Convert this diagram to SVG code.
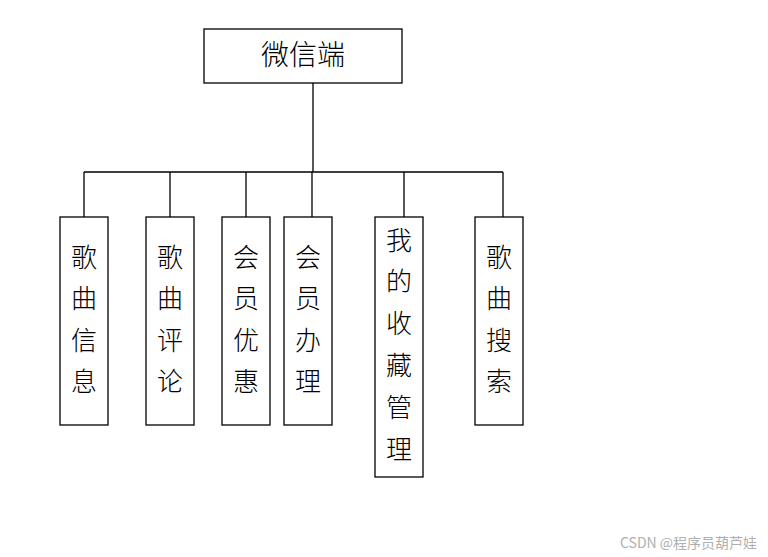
<svg xmlns="http://www.w3.org/2000/svg" width="768" height="557" viewBox="0 0 768 557">
<style>
.box{fill:#fff;stroke:#000;stroke-width:1.3}
.lbl{font-family:"Noto Sans CJK SC","Noto Sans",sans-serif;font-size:26px;font-weight:300;fill:#000;text-anchor:middle}
.ttl{font-size:28px}
.conn{stroke:#000;stroke-width:1.3;fill:none}
.wm{font-family:"Noto Sans CJK SC","Liberation Sans",sans-serif;font-size:14px;fill:#b0b0b0}
</style>
<rect width="768" height="557" fill="#fff"/>
<g id="connectors">
<path class="conn" d="M313 83V172M84 172H503M84 172V217M170 172V217M246 172V217M312 172V217M404 172V217M503 172V217"/>
</g>
<g id="root"><rect class="box" x="204" y="29" width="198" height="54"/><text class="lbl ttl" x="303" y="65">微信端</text></g>
<g id="n1"><rect class="box" x="60" y="217" width="48" height="208"/>
<text class="lbl" x="84" y="267">歌</text><text class="lbl" x="84" y="308">曲</text><text class="lbl" x="84" y="350">信</text><text class="lbl" x="84" y="391">息</text></g>
<g id="n2"><rect class="box" x="146" y="217" width="48" height="208"/>
<text class="lbl" x="170" y="267">歌</text><text class="lbl" x="170" y="308">曲</text><text class="lbl" x="170" y="350">评</text><text class="lbl" x="170" y="391">论</text></g>
<g id="n3"><rect class="box" x="222" y="217" width="48" height="208"/>
<text class="lbl" x="246" y="267">会</text><text class="lbl" x="246" y="308">员</text><text class="lbl" x="246" y="350">优</text><text class="lbl" x="246" y="391">惠</text></g>
<g id="n4"><rect class="box" x="284" y="217" width="48" height="208"/>
<text class="lbl" x="308" y="267">会</text><text class="lbl" x="308" y="308">员</text><text class="lbl" x="308" y="350">办</text><text class="lbl" x="308" y="391">理</text></g>
<g id="n5"><rect class="box" x="375" y="217" width="48" height="260"/>
<text class="lbl" x="399" y="250">我</text><text class="lbl" x="399" y="291">的</text><text class="lbl" x="399" y="333">收</text><text class="lbl" x="399" y="375">藏</text><text class="lbl" x="399" y="417">管</text><text class="lbl" x="399" y="459">理</text></g>
<g id="n6"><rect class="box" x="475" y="217" width="48" height="208"/>
<text class="lbl" x="499" y="267">歌</text><text class="lbl" x="499" y="308">曲</text><text class="lbl" x="499" y="350">搜</text><text class="lbl" x="499" y="391">索</text></g>
<text class="wm" x="620" y="548">CSDN @程序员葫芦娃</text>
</svg>
